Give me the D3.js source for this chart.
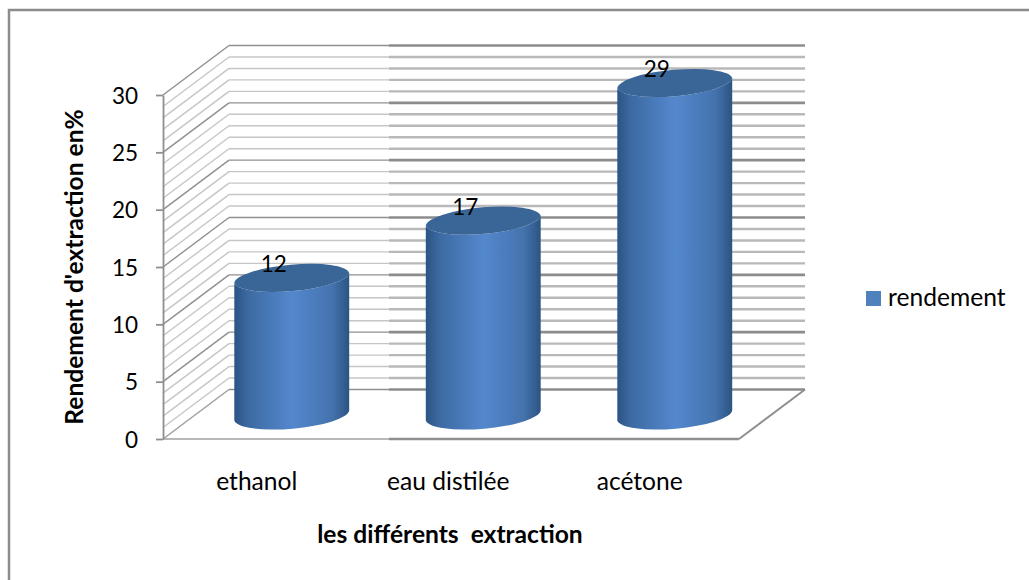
<!DOCTYPE html>
<html>
<head>
<meta charset="utf-8">
<script src="https://cdnjs.cloudflare.com/ajax/libs/d3/7.8.5/d3.min.js"></script>
<style>
  html, body { margin: 0; padding: 0; background: #fff; }
  text { font-family: Lato, sans-serif; fill: #000; }
</style>
</head>
<body>
<div id="plot_area"></div>
<script>
//set svg size
const w = 1029;
const h = 580;

//chart values
const categories = ['ethanol', 'eau distilée', 'acétone'];
const values = [12, 17, 29];
const seriesName = 'rendement';
const yTicks = [0, 5, 10, 15, 20, 25, 30];
const gridValues = d3.range(0, 31);

//3d box of the chart
const floorY = 439;
const topY = 95;
const frontX = 163;
const frontRight = 739;
const depthX = 66;
const depthY = -49.5;
const thickFrom = 389;   // the lines get heavier from here on in the original
const barDepth = 23.5;   // bars stand in the middle of the floor
const tilt = 5;          // the ellipses lean a bit
const numSize = 22.5;
const textSize = 24.6;

const yScale = d3.scaleLinear().domain([0, 30]).range([floorY, topY]);

const xScale = d3.scaleBand()
                 .domain(categories)
                 .range([196, 770.5])
                 .paddingInner(0.4)
                 .paddingOuter(0.2);

const svg = d3.select('#plot_area')
              .append('svg')
              .attr('width', w)
              .attr('height', h)
              .style('display', 'block');

const defs = svg.append('defs');
const grad = defs.append('linearGradient').attr('id', 'barGrad');
[[0, '#2c5484'], [0.12, '#3c6aa2'], [0.5, '#5488cd'], [0.85, '#4473ae'], [1, '#2c5482']]
  .forEach(function (s) {
    grad.append('stop').attr('offset', s[0]).attr('stop-color', s[1]);
  });

//outer frame, only left and top are visible
svg.append('path')
   .attr('d', 'M9,' + h + 'V10H' + w)
   .attr('fill', 'none')
   .attr('stroke', '#8c8c8c')
   .attr('stroke-width', 2.5);

//grid on both walls
const backX = frontX + depthX;
const backRight = frontRight + depthX;

gridValues.forEach(function (v) {
  const major = v % 5 === 0;
  const y = yScale(v);
  const col = major ? '#8f8f8f' : '#c6c6c6';
  const thickCol = major ? '#8c8c8c' : '#b9b9b9';

  if (v > 0) {
    svg.append('line')
       .attr('x1', frontX).attr('y1', y)
       .attr('x2', backX).attr('y2', y + depthY)
       .attr('stroke', col)
       .attr('stroke-width', 1.4);
  }
  svg.append('line')
     .attr('x1', backX).attr('y1', y + depthY)
     .attr('x2', thickFrom).attr('y2', y + depthY)
     .attr('stroke', col)
     .attr('stroke-width', 1.4);
  svg.append('line')
     .attr('x1', thickFrom).attr('y1', y + depthY)
     .attr('x2', backRight).attr('y2', y + depthY)
     .attr('stroke', thickCol)
     .attr('stroke-width', major ? 2.6 : 2.4);
});

//floor
svg.append('path')
   .attr('d', 'M' + frontX + ',' + floorY + 'L' + backX + ',' + (floorY + depthY))
   .attr('fill', 'none')
   .attr('stroke', '#a0a0a0')
   .attr('stroke-width', 1.5);
svg.append('path')
   .attr('d', 'M' + frontRight + ',' + floorY + 'L' + backRight + ',' + (floorY + depthY))
   .attr('fill', 'none')
   .attr('stroke', '#8f8f8f')
   .attr('stroke-width', 2);
svg.append('line')
   .attr('x1', frontX).attr('y1', floorY)
   .attr('x2', thickFrom).attr('y2', floorY)
   .attr('stroke', '#a0a0a0')
   .attr('stroke-width', 1.6);
svg.append('line')
   .attr('x1', thickFrom).attr('y1', floorY)
   .attr('x2', frontRight).attr('y2', floorY)
   .attr('stroke', '#8f8f8f')
   .attr('stroke-width', 2.4);

//y axis
const yAxis = svg.append('g')
                 .attr('transform', 'translate(' + frontX + ',0)')
                 .call(d3.axisLeft(yScale)
                         .tickValues(yTicks)
                         .tickSize(7)
                         .tickSizeOuter(0)
                         .tickPadding(18));
yAxis.selectAll('path, line')
     .attr('stroke', '#8f8f8f')
     .attr('stroke-width', 1.8);
yAxis.selectAll('text')
     .attr('dy', '0.37em')
     .style('font-size', numSize + 'px')
     .attr('fill', '#000');

//cylinders
const rx = xScale.bandwidth() / 2;
const ry = 14;
const lean = rx * Math.sin(tilt * Math.PI / 180);
const arc = 'A' + (rx + 0.3) + ',' + ry + ' ' + (-tilt) + ' 0 ';

function barTop(v) {
  return yScale(v) - barDepth;
}

function bodyPath(d, i) {
  const l = xScale(categories[i]);
  const r = l + xScale.bandwidth();
  const t = barTop(d);
  const b = barTop(0);
  return 'M' + l + ',' + (t + lean) +
         'L' + l + ',' + (b + lean) +
         arc + '0 ' + r + ',' + (b - lean) +
         'L' + r + ',' + (t - lean) +
         arc + '1 ' + l + ',' + (t + lean) + 'Z';
}

function capPath(d, i) {
  const l = xScale(categories[i]);
  const r = l + xScale.bandwidth();
  const t = barTop(d);
  return 'M' + l + ',' + (t + lean) +
         arc + '0 ' + r + ',' + (t - lean) +
         arc + '0 ' + l + ',' + (t + lean) + 'Z';
}

svg.selectAll('path.body')
   .data(values)
   .enter()
   .append('path')
   .attr('class', 'body')
   .attr('fill', 'url(#barGrad)')
   .attr('d', bodyPath);

svg.selectAll('path.cap')
   .data(values)
   .enter()
   .append('path')
   .attr('class', 'cap')
   .attr('fill', '#3a6597')
   .attr('d', capPath);

//value labels
svg.selectAll('text.val')
   .data(values)
   .enter()
   .append('text')
   .attr('class', 'val')
   .attr('x', (d, i) => xScale(categories[i]) + rx - 18)
   .attr('y', (d) => barTop(d) - 5.5)
   .attr('text-anchor', 'middle')
   .style('font-size', numSize + 'px')
   .text((d) => d);

//category labels sit left of the bars, like in the original
svg.selectAll('text.cat')
   .data(categories)
   .enter()
   .append('text')
   .attr('class', 'cat')
   .attr('x', (d) => xScale(d) + rx - 35)
   .attr('y', 490)
   .attr('text-anchor', 'middle')
   .style('font-size', textSize + 'px')
   .text((d) => d);

//axis titles
svg.append('text')
   .attr('x', 450)
   .attr('y', 543)
   .attr('text-anchor', 'middle')
   .style('font-size', textSize + 'px')
   .style('font-weight', 'bold')
   .style('white-space', 'pre')
   .text('les différents  extraction');

svg.append('text')
   .attr('text-anchor', 'middle')
   .attr('transform', 'translate(83,267)rotate(-90)')
   .style('font-size', textSize + 'px')
   .style('font-weight', 'bold')
   .text("Rendement d'extraction en%");

//legend
svg.append('rect')
   .attr('x', 866)
   .attr('y', 291)
   .attr('width', 15)
   .attr('height', 15)
   .attr('fill', '#4f81bd');

svg.append('text')
   .attr('x', 888)
   .attr('y', 306)
   .style('font-size', textSize + 'px')
   .text(seriesName);
</script>
</body>
</html>
